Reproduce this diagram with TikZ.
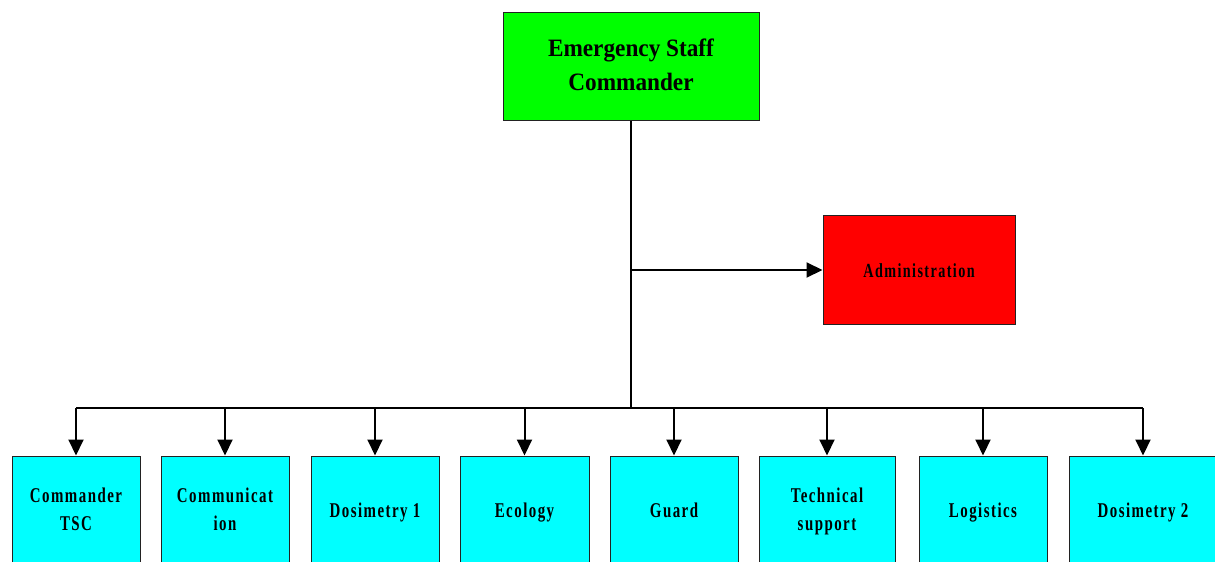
\documentclass[tikz,border=0pt]{standalone}
\usepackage{fontspec}
\setmainfont{Liberation Serif}
\newfontfamily\condserif{Liberation Serif}[FakeStretch=0.71, LetterSpace=7]
\newfontfamily\headserif{Liberation Serif}[FakeStretch=0.93]
\usetikzlibrary{arrows.meta}
\definecolor{boxgreen}{HTML}{00FF00}
\definecolor{boxred}{HTML}{FF0000}
\definecolor{boxcyan}{HTML}{00FFFF}
\definecolor{edge}{HTML}{222222}
\newcommand\unitstrut{\rule[-6pt]{0pt}{26pt}}
\newcommand\headstrut{\rule[-9pt]{0pt}{33pt}}
\newcommand\twolines[2]{\begin{tabular}{@{}c@{}}\unitstrut#1\\\unitstrut#2\end{tabular}}
\tikzset{
  orgbox/.style={draw=edge, line width=1pt, inner sep=0pt, align=center,
    font=\condserif\bfseries\fontsize{21}{26}\selectfont,
    execute at begin node=\unitstrut},
  unitbox/.style={orgbox, fill=boxcyan, minimum height=108pt},
  headbox/.style={draw=edge, line width=1pt, inner sep=0pt, fill=boxgreen,
    minimum width=256pt, minimum height=108pt,
    font=\headserif\bfseries\fontsize{25}{33}\selectfont},
  conn/.style={line width=2pt, black},
  arr/.style={conn, -{Triangle[length=16pt, width=15pt]}}
}
\begin{document}
\begin{tikzpicture}[x=1pt, y=-1pt]
\useasboundingbox (0,0) rectangle (1215,562);
\clip (0,0) rectangle (1215,562);
\node[headbox] (top) at (631,66) {\begin{tabular}{@{}c@{}}\headstrut Emergency Staff\\\headstrut Commander\end{tabular}};
\node[orgbox, fill=boxred, minimum width=192pt, minimum height=109pt, font=\condserif\bfseries\fontsize{20}{26}\selectfont] (admin) at (919,270) {Administration};
\node[unitbox, minimum width=128pt] (b1) at (76,510) {\twolines{Commander}{TSC}};
\node[unitbox, minimum width=128pt] (b2) at (225,510) {\twolines{Communicat}{ion}};
\node[unitbox, minimum width=128pt] (b3) at (375,510) {Dosimetry 1};
\node[unitbox, minimum width=129pt] (b4) at (524.5,510) {Ecology};
\node[unitbox, minimum width=128pt] (b5) at (674,510) {Guard};
\node[unitbox, minimum width=136pt] (b6) at (827,510) {\twolines{Technical}{support}};
\node[unitbox, minimum width=128pt] (b7) at (983,510) {Logistics};
\node[unitbox, minimum width=148pt] (b8) at (1143,510) {Dosimetry 2};
\coordinate (bus) at (631,408);
\coordinate (junc) at (631,270);
\draw[conn] (top.south) -- (bus);
\draw[arr] (junc) -- (admin.west);
\draw[conn] (b1.north |- bus) -- (b8.north |- bus);
\foreach \b in {b1,b2,b3,b4,b5,b6,b7,b8}
  \draw[arr] (\b.north |- bus) -- (\b.north);
\end{tikzpicture}
\end{document}
